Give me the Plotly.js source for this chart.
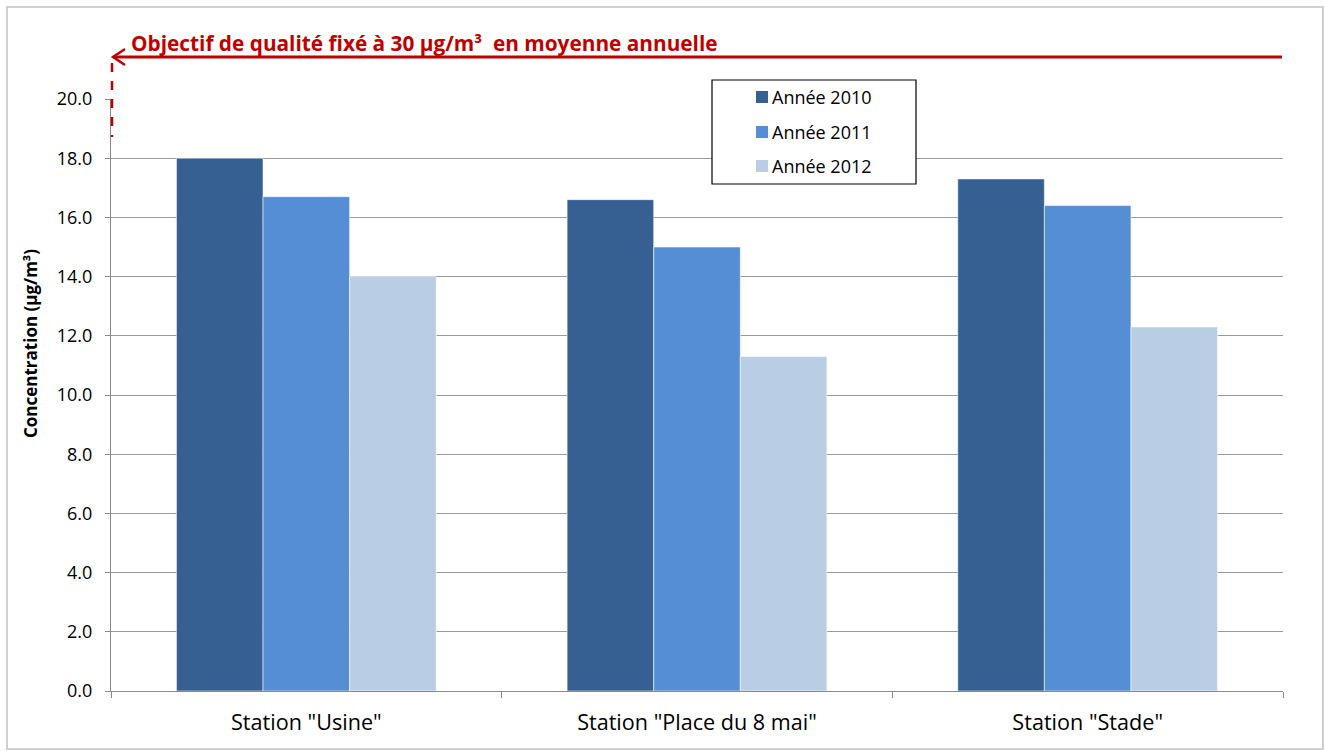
<!DOCTYPE html>
<html>
<head>
<meta charset="utf-8">
<script src="https://cdn.plot.ly/plotly-3.0.1.min.js"></script>
<style>html,body{margin:0;padding:0;background:#fff;}#chart{width:1325px;height:751px;}</style>
</head>
<body>
<div id="chart"></div>
<script>
const categories = ['Station "Usine"', 'Station "Place du 8 mai"', 'Station "Stade"'];
const seriesNames = ['Année 2010', 'Année 2011', 'Année 2012'];
const values2010 = [18.0, 16.6, 17.3];
const values2011 = [16.7, 15.0, 16.4];
const values2012 = [14.0, 11.3, 12.3];
const colors = ['#366092', '#558ed5', '#b9cde5'];
const yTickVals = [0, 2, 4, 6, 8, 10, 12, 14, 16, 18, 20];
const objectiveText = 'Objectif de qualité fixé à 30 µg/m³  en moyenne annuelle';

const W = 1325, H = 751;
const M = {l: 111, r: 42, t: 99, b: 60};
const pw = W - M.l - M.r, ph = H - M.t - M.b;
const px = x => (x - M.l) / pw;
const py = y => (H - M.b - y) / ph;

const series = [values2010, values2011, values2012];
const traces = series.map((v, i) => ({
  type: 'bar', x: categories, y: v, name: seriesNames[i],
  marker: {color: colors[i], line: {color: 'rgba(255,255,255,0.55)', width: 1}},
  showlegend: false, hoverinfo: 'skip'
}));

const font = '"Open Sans", Lato, sans-serif';
const red = '#c00000';

const shapes = [
  {type: 'rect', xref: 'paper', yref: 'paper', x0: px(7), x1: px(1323), y0: py(749), y1: py(7),
   line: {color: '#d0d0d0', width: 2}, layer: 'below'},
  {type: 'line', xref: 'paper', yref: 'paper', x0: px(113), x1: px(1282), y0: py(57), y1: py(57),
   line: {color: red, width: 3}},
  {type: 'path', xref: 'paper', yref: 'paper',
   path: `M ${px(125)} ${py(49)} L ${px(113)} ${py(57)} L ${px(125)} ${py(65)}`,
   line: {color: red, width: 2.5}},
  {type: 'line', xref: 'paper', yref: 'paper', x0: px(112), x1: px(112), y0: py(63), y1: py(137),
   line: {color: red, width: 2.5, dash: 'dash'}},
  {type: 'rect', xref: 'paper', yref: 'paper', x0: px(712), x1: px(916), y0: py(184), y1: py(80),
   fillcolor: '#ffffff', line: {color: '#000000', width: 1.2}}
];
const annotations = [
  {xref: 'paper', yref: 'paper', x: px(129), y: py(43), xanchor: 'left', yanchor: 'middle',
   text: '<b>' + objectiveText + '</b>', showarrow: false,
   font: {family: font, size: 20.8, color: red}},
  {xref: 'paper', yref: 'paper', x: px(30), y: py(344), xanchor: 'center', yanchor: 'middle',
   text: '<b>Concentration (µg/m³)</b>', textangle: -90, showarrow: false,
   font: {family: font, size: 17, color: '#000'}}
];
const legendY = [97, 132, 166];
seriesNames.forEach((n, i) => {
  shapes.push({type: 'rect', xref: 'paper', yref: 'paper', x0: px(756), x1: px(768),
    y0: py(legendY[i] + 6), y1: py(legendY[i] - 6), fillcolor: colors[i], line: {width: 0}});
  annotations.push({xref: 'paper', yref: 'paper', x: px(770), y: py(legendY[i]), xanchor: 'left',
    yanchor: 'middle', text: n, showarrow: false, font: {family: font, size: 18, color: '#000'}});
});

const layout = {
  width: W, height: H,
  margin: M,
  paper_bgcolor: '#fff', plot_bgcolor: '#fff',
  font: {family: font, color: '#000'},
  barmode: 'group', bargap: 0.335, bargroupgap: 0,
  showlegend: false,
  xaxis: {
    type: 'category', showgrid: false, showline: true, linecolor: '#8a8a8a', linewidth: 1,
    ticks: 'outside', tickson: 'boundaries', ticklen: 6, tickcolor: '#8a8a8a',
    ticklabelstandoff: 12,
    tickfont: {family: font, size: 21.6, color: '#000'}, fixedrange: true
  },
  yaxis: {
    range: [0, 20], tickvals: yTickVals, tickformat: '.1f',
    showgrid: true, gridcolor: '#9a9a9a', gridwidth: 1, zeroline: false,
    showline: true, linecolor: '#8a8a8a', linewidth: 1,
    ticks: 'outside', ticklen: 5, tickcolor: '#8a8a8a',
    ticklabelstandoff: 9,
    tickfont: {family: font, size: 18, color: '#000'},
    fixedrange: true
  },
  shapes: shapes,
  annotations: annotations
};

Plotly.newPlot('chart', traces, layout, {staticPlot: true, displayModeBar: false});
</script>
</body>
</html>
